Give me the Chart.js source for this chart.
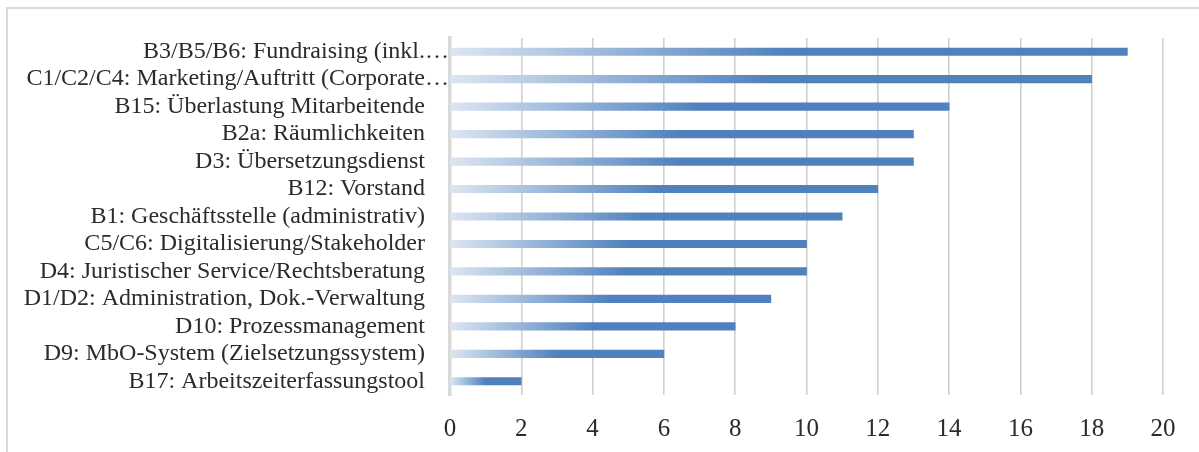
<!DOCTYPE html>
<html>
<head>
<meta charset="utf-8">
<script src="https://cdn.jsdelivr.net/npm/chart.js@4/dist/chart.umd.min.js"></script>
<style>
  html, body { margin: 0; padding: 0; background: #ffffff; overflow: hidden; }
  #wrap { position: relative; width: 1199px; height: 452px; }
  #frame {
    position: absolute; left: 6px; top: 7px; width: 1400px; height: 700px;
    border: 2px solid #d9d9d9; box-sizing: border-box;
  }
  canvas { position: absolute; left: 0; top: 0; }
</style>
</head>
<body>
<div id="wrap">
  <div id="frame"></div>
  <canvas id="c" width="1199" height="452"></canvas>
</div>
<script>
// Themen und Anzahl Nennungen
const categories = [
  'B3/B5/B6: Fundraising (inkl.…',
  'C1/C2/C4: Marketing/Auftritt (Corporate…',
  'B15: Überlastung Mitarbeitende',
  'B2a: Räumlichkeiten',
  'D3: Übersetzungsdienst',
  'B12: Vorstand',
  'B1: Geschäftsstelle (administrativ)',
  'C5/C6: Digitalisierung/Stakeholder',
  'D4: Juristischer Service/Rechtsberatung',
  'D1/D2: Administration, Dok.-Verwaltung',
  'D10: Prozessmanagement',
  'D9: MbO-System (Zielsetzungssystem)',
  'B17: Arbeitszeiterfassungstool'
];
const counts = [19, 18, 14, 13, 13, 12, 11, 10, 10, 9, 8, 6, 2];
const xTicks = [0, 2, 4, 6, 8, 10, 12, 14, 16, 18, 20];

const FONT = "'Liberation Serif', 'Times New Roman', serif";
const TEXT = '#2b2b2b';
const LIGHT = '#dce6f2';
const SOLID = '#4f81bd';

// Each bar fades from light blue at its base to solid blue halfway along
function barGradient(ctx) {
  const chart = ctx.chart;
  const x = chart.scales.x;
  if (!x || !chart.chartArea || ctx.type !== 'data') return SOLID;
  const x0 = x.getPixelForValue(0);
  const x1 = x.getPixelForValue(ctx.raw);
  if (!(x1 > x0)) return SOLID;
  const g = chart.ctx.createLinearGradient(x0, 0, x1, 0);
  g.addColorStop(0, LIGHT);
  g.addColorStop(0.5, SOLID);
  g.addColorStop(1, SOLID);
  return g;
}

new Chart(document.getElementById('c'), {
  type: 'bar',
  data: {
    labels: categories,
    datasets: [{
      data: counts,
      backgroundColor: barGradient,
      borderWidth: 0,
      barThickness: 7.5
    }]
  },
  options: {
    indexAxis: 'y',
    responsive: false,
    animation: false,
    events: [],
    layout: { padding: { left: 0, right: 36, top: 38, bottom: 0 } },
    plugins: { legend: { display: false }, tooltip: { enabled: false } },
    scales: {
      x: {
        min: 0, max: 20,
        afterBuildTicks: (scale) => { scale.ticks = xTicks.map(v => ({ value: v })); },
        afterFit: (scale) => { scale.height = 57; },
        grid: { color: '#d0d0d0', lineWidth: 1.6, drawTicks: false },
        border: { display: false },
        ticks: {
          font: { family: FONT, size: 25 },
          color: TEXT,
          padding: 19,
          maxRotation: 0
        }
      },
      y: {
        afterFit: (scale) => { scale.width = 450; },
        grid: { display: false, drawTicks: false },
        border: { display: true, color: '#d9d9d9', width: 3.5 },
        ticks: {
          font: { family: FONT, size: 24 },
          color: TEXT,
          padding: 1,
          autoSkip: false,
          callback: function (v, i) {
            const s = categories[i];
            return s.endsWith('…') ? s : s + '\u2002\u2002';
          }
        }
      }
    }
  }
});
</script>
</body>
</html>
